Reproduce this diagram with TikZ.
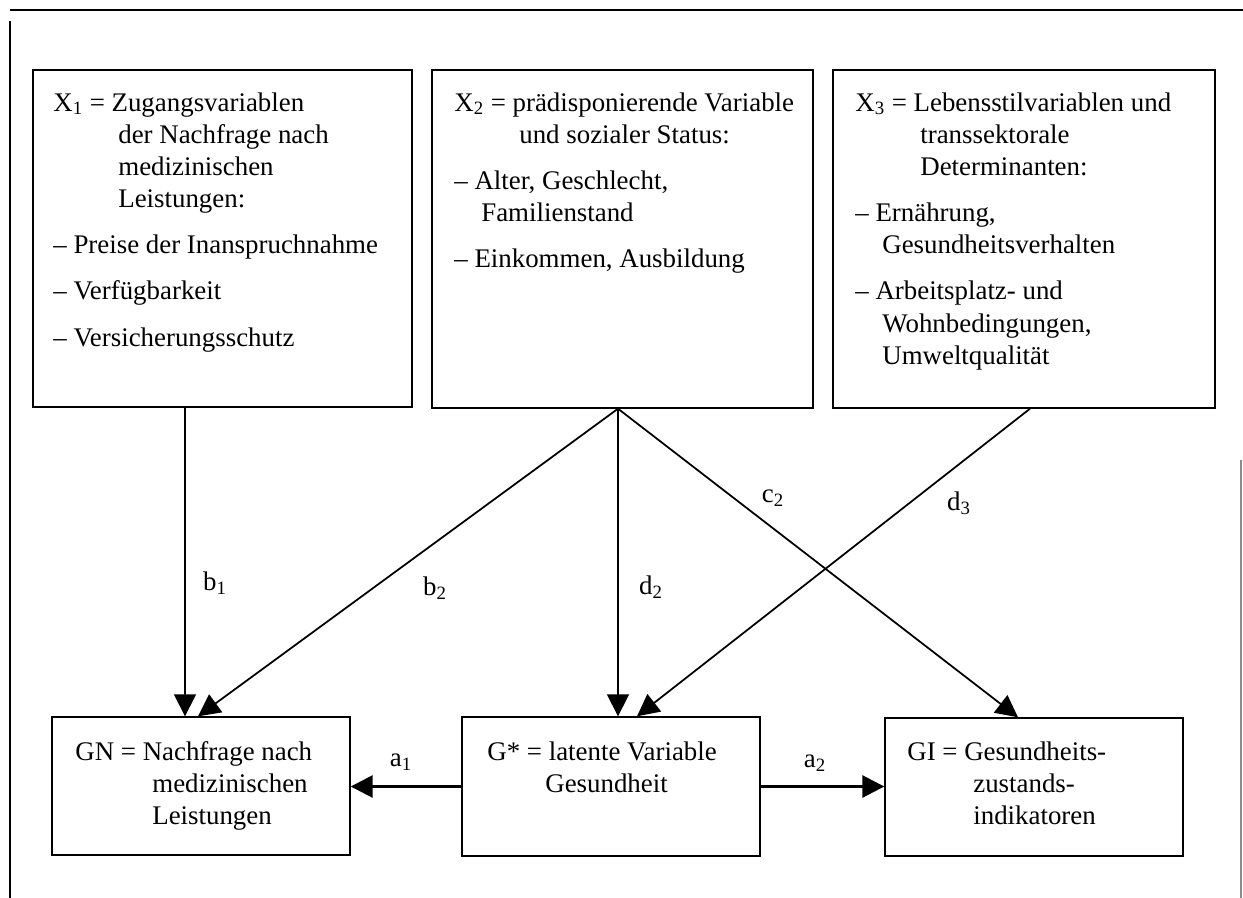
\documentclass[tikz,border=0pt]{standalone}
\usepackage{fontspec}
\setmainfont{Liberation Serif}
\usetikzlibrary{positioning,fit,arrows.meta}

\newcommand\bodyfont{\fontsize{15.3}{18.3}\selectfont}

\tikzset{
  box/.style={draw=black, line width=0.8pt, inner sep=0pt},
  txt/.style={anchor=north west, align=left, inner sep=0pt, font=\bodyfont},
  lbl/.style={inner sep=0pt, font=\bodyfont},
  arr/.style={line width=1pt, -{Triangle[length=0.44cm,width=0.44cm]}},
  thickarr/.style={arr, line width=1.6pt},
}

\begin{document}
\begin{tikzpicture}[x=0.02cm,y=-0.02cm]
\useasboundingbox (0,0) rectangle (1243,898);

% page frame
\draw[line width=1pt] (10,10) -- (1243,10);
\draw[line width=1pt] (10,21) -- (10,898);
\draw[line width=1pt,black!45] (1241,460) -- (1241,898);

% boxes
\node[box, fit={(33,70) (412,407)}] (x1) {};
\node[box, fit={(432,70) (813,408)}] (x2) {};
\node[box, fit={(833,70) (1215,408)}] (x3) {};
\node[box, fit={(52,717) (350,855)}] (gn) {};
\node[box, fit={(462,717) (760,856)}] (gs) {};
\node[box, fit={(885,718) (1183,856)}] (gi) {};

% texts
\node[txt] (x1t) at (53,92) {X\textsubscript{1} = Zugangsvariablen\\
  \hspace*{1.3cm}der Nachfrage nach\\
  \hspace*{1.3cm}medizinischen\\
  \hspace*{1.3cm}Leistungen:\\[8pt]
  -- Preise der Inanspruchnahme\\[8pt]
  -- Verfügbarkeit\\[8pt]
  -- Versicherungsschutz};
\node[txt] (x2t) at (454,92) {X\textsubscript{2} = prädisponierende Variable\\
  \hspace*{1.3cm}und sozialer Status:\\[8pt]
  -- Alter, Geschlecht,\\
  \hspace*{0.54cm}Familienstand\\[8pt]
  -- Einkommen, Ausbildung};
\node[txt] (x3t) at (855,92) {X\textsubscript{3} = Lebensstilvariablen und\\
  \hspace*{1.3cm}transsektorale\\
  \hspace*{1.3cm}Determinanten:\\[8pt]
  -- Ernährung,\\
  \hspace*{0.54cm}Gesundheitsverhalten\\[8pt]
  -- Arbeitsplatz- und\\
  \hspace*{0.54cm}Wohnbedingungen,\\
  \hspace*{0.54cm}Umweltqualität};
\node[txt] (gnt) at (75,741) {GN = Nachfrage nach\\
  \hspace*{1.54cm}medizinischen\\
  \hspace*{1.54cm}Leistungen};
\node[txt] (gst) at (487,741) {G* = latente Variable\\
  \hspace*{1.16cm}Gesundheit};
\node[txt] (git) at (907,741) {GI = Gesundheits-\\
  \hspace*{1.32cm}zustands-\\
  \hspace*{1.32cm}indikatoren};

% paths
\coordinate (apex) at ([xshift=-0.09cm]x2.south);
\draw[arr] ([xshift=-0.75cm]x1.south) -- ([xshift=-0.32cm]gn.north);
\draw[arr] (apex) -- ([xshift=-0.06cm]gn.north);
\draw[arr] (apex) -- (apex |- gs.north);
\draw[arr] (apex) -- ([xshift=-0.32cm]gi.north);
\draw[arr] ([xshift=0.12cm]x3.south) -- ([xshift=0.52cm]gs.north);
\draw[thickarr] (gs.west) -- (gs.west -| gn.east);
\draw[thickarr] (gs.east) -- (gs.east -| gi.west);

% labels
\node[lbl] (lb1) at (215,583) {b\textsubscript{1}};
\node[lbl] (lb2) at (435,588) {b\textsubscript{2}};
\node[lbl] (ld2) at (651,587) {d\textsubscript{2}};
\node[lbl] (lc2) at (773,498) {c\textsubscript{2}};
\node[lbl] (ld3) at (959,503) {d\textsubscript{3}};
\node[lbl] (la1) at (401,762) {a\textsubscript{1}};
\node[lbl] (la2) at (815,763) {a\textsubscript{2}};

\end{tikzpicture}
\end{document}
